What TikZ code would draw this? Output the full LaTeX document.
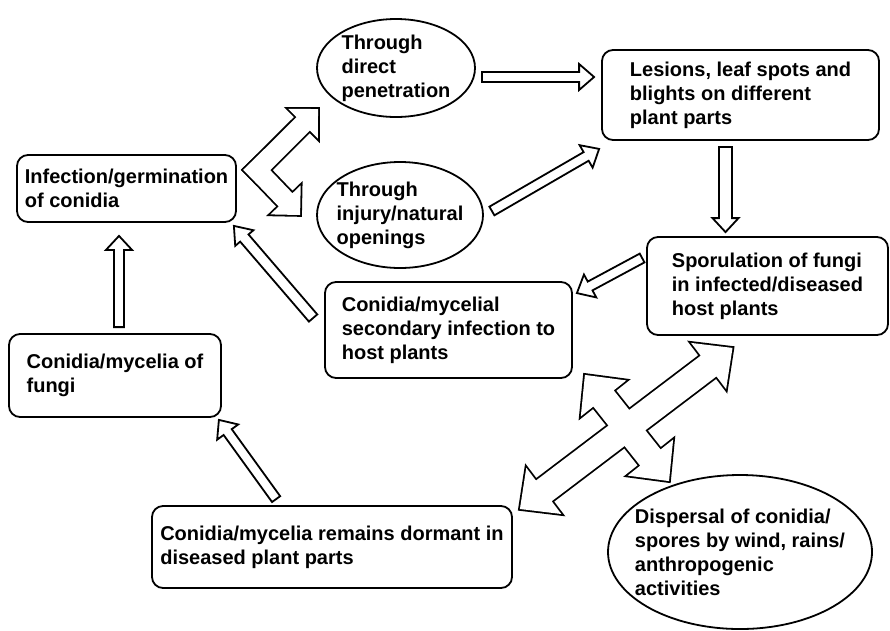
\documentclass[tikz,border=0pt]{standalone}
\usepackage{fontspec}
\setmainfont{Liberation Sans}
\usetikzlibrary{shapes.geometric, calc, positioning}

% hollow block arrow: style, tail, tip, half shaft, half head, head length
\newcommand{\blockarrow}[6]{%
  \coordinate (ArrTail) at #2;
  \coordinate (ArrTip)  at #3;
  \coordinate (ArrBase) at ($(ArrTip)!#6!(ArrTail)$);
  \path[#1] ($(ArrTail)!#4!90:(ArrTip)$) -- ($(ArrBase)!#4!-90:(ArrTail)$)
    -- ($(ArrBase)!#5!-90:(ArrTail)$) -- (ArrTip) -- ($(ArrBase)!#5!90:(ArrTail)$)
    -- ($(ArrBase)!#4!90:(ArrTail)$) -- ($(ArrTail)!#4!-90:(ArrTip)$) -- cycle;
}
% same, with a head at both ends
\newcommand{\dblockarrow}[6]{%
  \coordinate (ArrTail) at #2;
  \coordinate (ArrTip)  at #3;
  \coordinate (ArrBase) at ($(ArrTip)!#6!(ArrTail)$);
  \coordinate (ArrBack) at ($(ArrTail)!#6!(ArrTip)$);
  \path[#1] (ArrTail) -- ($(ArrBack)!#5!90:(ArrTip)$) -- ($(ArrBack)!#4!90:(ArrTip)$)
    -- ($(ArrBase)!#4!-90:(ArrTail)$) -- ($(ArrBase)!#5!-90:(ArrTail)$) -- (ArrTip)
    -- ($(ArrBase)!#5!90:(ArrTail)$) -- ($(ArrBase)!#4!90:(ArrTail)$)
    -- ($(ArrBack)!#4!-90:(ArrTip)$) -- ($(ArrBack)!#5!-90:(ArrTip)$) -- cycle;
}

\begin{document}
\begin{tikzpicture}[
    x=1pt, y=-1pt,
    stagebox/.style={draw, line width=1.8pt, rounded corners=11pt, align=left, inner sep=0pt, font=\fontsize{20}{24}\selectfont\bfseries},
    routeoval/.style={draw, ellipse, line width=1.8pt, align=left, inner xsep=-15pt, inner ysep=0pt, font=\fontsize{20}{24}\selectfont\bfseries},
    hollow/.style={draw, line width=1.8pt, fill=white, line join=miter},
    unionline/.style={draw, fill, line width=3.6pt, line join=miter},
    unionfill/.style={fill=white}
]
    \useasboundingbox (0,0) rectangle (890,630);

    \node[stagebox, minimum width=219pt, minimum height=67pt] (Infect)  at (126.5,188.5) {Infection/germination\\of conidia};
    \node[stagebox, minimum width=277pt, minimum height=90pt] (Lesion)  at (740.5,95)    {Lesions, leaf spots and\\blights on different\\plant parts};
    \node[stagebox, minimum width=241pt, minimum height=98pt] (Sporul)  at (767.5,286)   {Sporulation of fungi\\in infected/diseased\\host plants};
    \node[stagebox, minimum width=247pt, minimum height=96pt] (Second)  at (448.5,330)   {Conidia/mycelial\\secondary infection to\\host plants};
    \node[stagebox, minimum width=212pt, minimum height=83pt] (Fungi)   at (115,375.5)   {Conidia/mycelia of\\fungi};
    \node[stagebox, minimum width=360pt, minimum height=82pt] (Dormant) at (332,547)     {Conidia/mycelia remains dormant in\\diseased plant parts};

    \node[routeoval, minimum width=158pt, minimum height=98pt]  (Pen)    at (396,68)  {Through\\direct\\penetration};
    \node[routeoval, minimum width=166pt, minimum height=106pt] (Injury) at (400,215) {Through\\injury/natural\\openings};
    \node[routeoval, minimum width=264pt, minimum height=154pt] (Spread) at (740,552) {Dispersal of conidia/\\spores by wind, rains/\\anthropogenic\\activities};

    % infection routes
    \coordinate (Bend)     at ($(Infect.east)+(20,-18.5)$);
    \coordinate (BendUp)   at ($(Pen.center)+(-78,41)$);
    \coordinate (BendDown) at ($(Injury.west)+(-16,0)$);
    \blockarrow{unionline}{($(Bend)!-9.5pt!(BendUp)$)}{(BendUp)}{9.5pt}{21pt}{21pt}
    \blockarrow{unionline}{($(Bend)!-9.5pt!(BendDown)$)}{(BendDown)}{9.5pt}{21pt}{21pt}
    \blockarrow{unionfill}{($(Bend)!-9.5pt!(BendUp)$)}{(BendUp)}{9.5pt}{21pt}{21pt}
    \blockarrow{unionfill}{($(Bend)!-9.5pt!(BendDown)$)}{(BendDown)}{9.5pt}{21pt}{21pt}

    \blockarrow{hollow}{($(Pen.east)+(6,9)$)}{($(Lesion.west)+(-7,-18)$)}{5pt}{13pt}{15pt}
    \blockarrow{hollow}{($(Injury.east)+(8,-4)$)}{($(Lesion.south west)+(-2,8)$)}{5pt}{13pt}{15pt}
    \blockarrow{hollow}{($(Lesion.south)+(-15,6)$)}{($(Sporul.north)+(-42,-4)$)}{6.5pt}{13pt}{14pt}
    \blockarrow{hollow}{($(Sporul.west)+(-4,-28)$)}{($(Second.north east)+(4,12)$)}{5pt}{13pt}{15pt}
    \blockarrow{hollow}{($(Second.west)+(-11,-12)$)}{($(Infect.south east)+(-3,3)$)}{5.5pt}{12pt}{16pt}
    \blockarrow{hollow}{($(Fungi.north)+(4,-6)$)}{($(Infect.south)+(-7.5,13)$)}{5pt}{13pt}{14pt}
    \blockarrow{hollow}{($(Dormant.north west)+(125,-6)$)}{($(Fungi.south east)+(-3,2)$)}{5pt}{13pt}{15pt}

    % dispersal cross
    \coordinate (SpreadSW) at ($(Dormant.east)+(7,-38)$);
    \coordinate (SpreadNE) at ($(Sporul.south)+(-35,12)$);
    \coordinate (SpreadNW) at ($(Second.south east)+(12,-4)$);
    \coordinate (SpreadSE) at ($(Spread.north)+(-71,7)$);
    \dblockarrow{unionline}{(SpreadSW)}{(SpreadNE)}{13pt}{29pt}{30pt}
    \dblockarrow{unionline}{(SpreadNW)}{(SpreadSE)}{13pt}{29pt}{30pt}
    \dblockarrow{unionfill}{(SpreadSW)}{(SpreadNE)}{13pt}{29pt}{30pt}
    \dblockarrow{unionfill}{(SpreadNW)}{(SpreadSE)}{13pt}{29pt}{30pt}

\end{tikzpicture}
\end{document}
